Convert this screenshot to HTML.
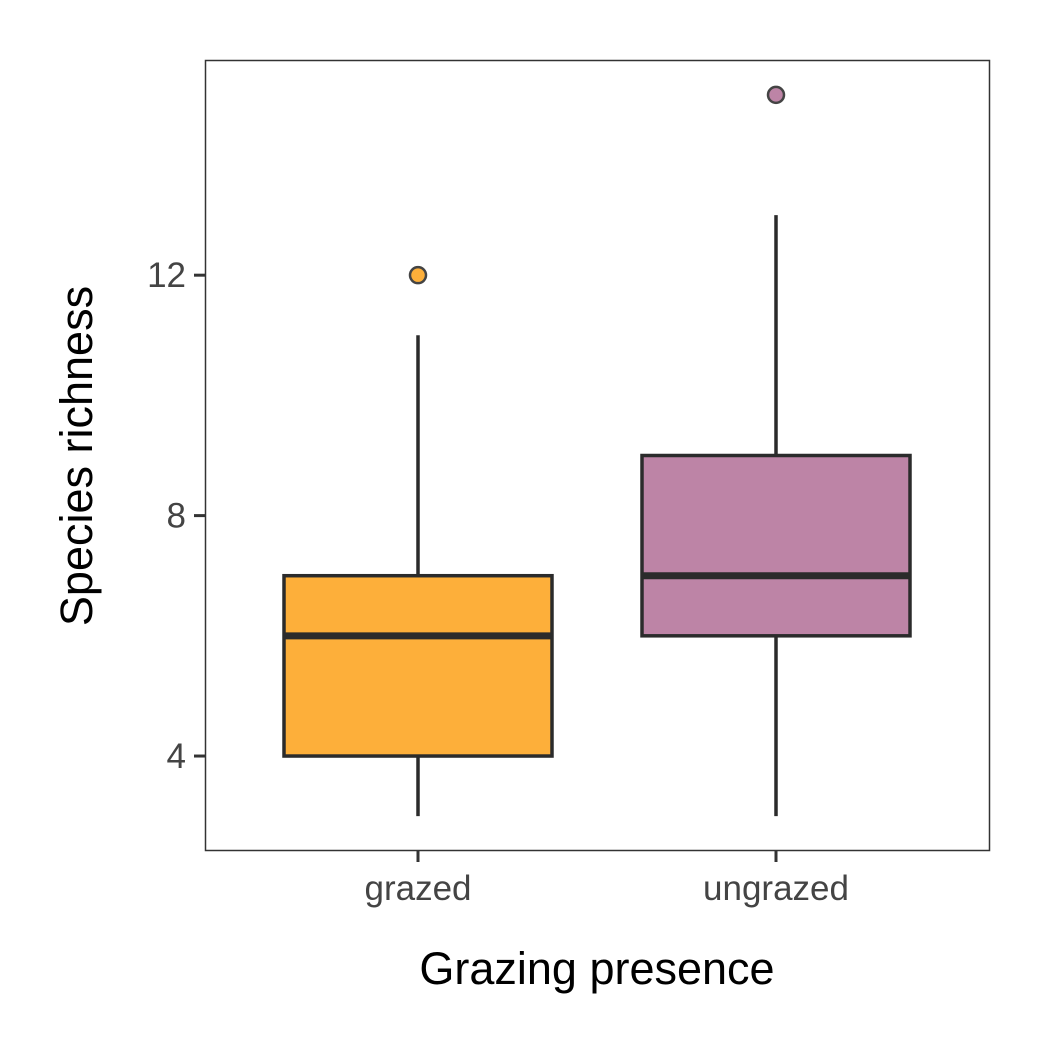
<!DOCTYPE html>
<html><head><meta charset="utf-8"><style>html,body{margin:0;padding:0;background:#fff}svg{display:block}text{font-family:"Liberation Sans",Arial,sans-serif}</style></head>
<body>
<svg id="chart" width="1050" height="1050" viewBox="0 0 1050 1050" xmlns="http://www.w3.org/2000/svg">
<rect x="0" y="0" width="1050" height="1050" fill="#fff"/>
<g id="marks"></g>
<rect x="205.5" y="60.5" width="784" height="790" fill="none" stroke="#333" stroke-width="1.5"/>
<g id="axes"></g>
<text x="597" y="984" font-size="45" text-anchor="middle" fill="#000">Grazing presence</text>
<text transform="translate(92,456) rotate(-90)" font-size="45" text-anchor="middle" fill="#000">Species richness</text>
</svg>
<script>
const categories = ["grazed", "ungrazed"];
const whiskerLow = [3, 3];
const q1 = [4, 6];
const median = [6, 7];
const q3 = [7, 9];
const whiskerHigh = [11, 13];
const outliers = [[12], [15]];
const fills = ["#FDAF3A", "#BD84A6"];
const yTicks = [4, 8, 12];

(function(){
const NS = "http://www.w3.org/2000/svg";
const yMin = 2.42, yMax = 15.58, plotTop = 60, plotBottom = 851;
function y(v){ return plotBottom - (v - yMin) / (yMax - yMin) * (plotBottom - plotTop); }
function x(i){ return 418 + i * 358; }
const halfW = 134;
function mk(tag, attrs, parent){ const e = document.createElementNS(NS, tag); for (const k in attrs) e.setAttribute(k, attrs[k]); parent.appendChild(e); return e; }
const marks = document.getElementById('marks');
const axes = document.getElementById('axes');
const stroke = "#2b2b2b";
categories.forEach((c, i) => {
  const cx = x(i);
  let e = mk('line', {x1: cx, x2: cx, y1: y(q3[i]), y2: y(whiskerHigh[i]), stroke: stroke, 'stroke-width': 3.5}, marks);
  
  
  e = mk('line', {x1: cx, x2: cx, y1: y(q1[i]), y2: y(whiskerLow[i]), stroke: stroke, 'stroke-width': 3.5}, marks);
  
  
  e = mk('rect', {x: cx - halfW, y: y(q3[i]), width: 2 * halfW, height: y(q1[i]) - y(q3[i]), fill: fills[i], stroke: stroke, 'stroke-width': 3.5}, marks);
  
  
  e = mk('line', {x1: cx - halfW, x2: cx + halfW, y1: y(median[i]), y2: y(median[i]), stroke: stroke, 'stroke-width': 7}, marks);
  
  
  outliers[i].forEach(v => {
    const o = mk('circle', {cx: cx, cy: y(v), r: 8, fill: fills[i], stroke: "#444", 'stroke-width': 2.5}, marks);
    
    
  });
  const t = mk('line', {x1: cx, x2: cx, y1: 851, y2: 862, stroke: "#333", 'stroke-width': 3}, axes);
  
  
  const l = mk('text', {x: cx, y: 900, 'font-size': 35, 'text-anchor': 'middle', fill: '#444'}, axes);
  l.textContent = c;
  
  
});
yTicks.forEach(v => {
  const t = mk('line', {x1: 194, x2: 205, y1: y(v), y2: y(v), stroke: "#333", 'stroke-width': 3}, axes);
  
  
  const l = mk('text', {x: 186, y: y(v) + 12, 'font-size': 35, 'text-anchor': 'end', fill: '#444'}, axes);
  l.textContent = v;
  
  
});
})();
</script>
</body></html>
